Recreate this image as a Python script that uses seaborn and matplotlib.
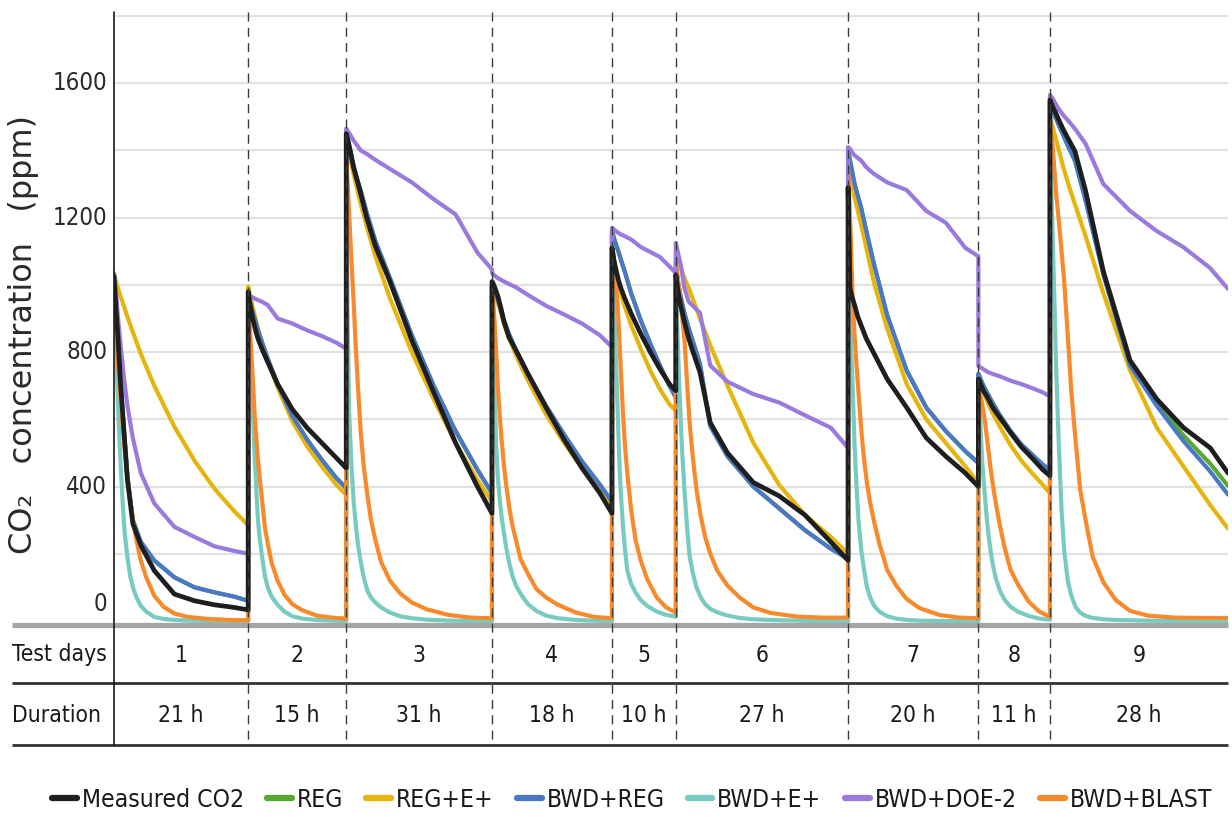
import numpy as np
import pandas as pd
import matplotlib
matplotlib.use("Agg")
import matplotlib.pyplot as plt
import seaborn as sns
from matplotlib import font_manager as fm
from matplotlib.lines import Line2D
from matplotlib.transforms import blended_transform_factory

# ---------------- data ----------------
# segment boundaries on a shared elapsed-time axis (h)
seg_edges = [0, 20.8, 36.0, 58.6, 77.2, 87.1, 113.8, 134.0, 145.1, 172.7]
test_days = ["1", "2", "3", "4", "5", "6", "7", "8", "9"]
durations = ["21 h", "15 h", "31 h", "18 h", "10 h", "27 h", "20 h", "11 h", "28 h"]
# sampling positions inside each segment (fraction of the segment)
frac = [0, 0.015, 0.03, 0.05, 0.075, 0.1, 0.14, 0.2, 0.3, 0.45, 0.6, 0.75, 0.9, 1.0]
frac_fast = [0, 0.01, 0.02, 0.035, 0.05, 0.065, 0.08, 0.1, 0.12, 0.145, 0.17, 0.2, 0.24,
             0.3, 0.37, 0.45, 0.55, 0.7, 0.85, 1.0]

measured = [
    [1026, 930, 840, 700, 560, 420, 290, 225, 150, 80, 60, 48, 40, 33],
    [980, 950, 925, 895, 865, 840, 810, 770, 705, 630, 575, 530, 485, 455],
    [1450, 1425, 1395, 1350, 1310, 1270, 1200, 1115, 1010, 835, 680, 530, 400, 320],
    [1010, 1000, 985, 965, 930, 890, 845, 805, 735, 635, 540, 455, 380, 320],
    [1110, 1095, 1075, 1055, 1035, 1015, 990, 960, 915, 855, 800, 750, 705, 685],
    [1030, 975, 935, 890, 840, 800, 740, 590, 500, 412, 372, 315, 235, 180],
    [1290, 990, 965, 940, 905, 880, 840, 795, 720, 635, 545, 490, 440, 400],
    [720, 715, 705, 695, 683, 675, 660, 635, 605, 560, 518, 485, 450, 432],
    [1550, 1530, 1515, 1490, 1462, 1437, 1398, 1280, 1040, 775, 660, 575, 515, 440],
]
reg = [
    [1000, 920, 830, 700, 560, 430, 300, 235, 180, 130, 100, 85, 72, 60],
    [960, 950, 935, 915, 890, 865, 830, 780, 705, 610, 540, 480, 425, 395],
    [1440, 1415, 1390, 1355, 1315, 1280, 1215, 1130, 1020, 850, 700, 565, 450, 380],
    [1000, 990, 975, 955, 925, 895, 855, 805, 735, 640, 555, 475, 405, 355],
    [1160, 1150, 1140, 1128, 1113, 1100, 1075, 1040, 975, 895, 825, 760, 700, 665],
    [1050, 1000, 960, 915, 870, 830, 765, 580, 490, 400, 335, 270, 215, 185],
    [1400, 1370, 1340, 1300, 1265, 1230, 1160, 1060, 910, 745, 635, 565, 505, 470],
    [735, 728, 720, 710, 698, 688, 672, 648, 612, 565, 525, 495, 465, 450],
    [1540, 1520, 1500, 1475, 1445, 1415, 1370, 1255, 1035, 770, 652, 552, 468, 402],
]
reg_eplus = [
    [1030, 1010, 990, 965, 935, 905, 860, 795, 700, 578, 477, 393, 325, 285],
    [995, 975, 955, 930, 900, 870, 830, 775, 695, 595, 520, 460, 405, 375],
    [1430, 1400, 1370, 1330, 1285, 1240, 1175, 1085, 960, 800, 660, 530, 420, 355],
    [995, 980, 965, 945, 915, 885, 845, 790, 715, 615, 530, 455, 385, 340],
    [1110, 1095, 1075, 1055, 1030, 1005, 975, 935, 880, 810, 745, 690, 645, 625],
    [1085, 1070, 1050, 1020, 990, 957, 900, 820, 700, 530, 405, 315, 250, 200],
    [1370, 1335, 1300, 1260, 1220, 1180, 1110, 1005, 870, 705, 600, 530, 460, 410],
    [725, 715, 705, 692, 678, 665, 645, 618, 578, 523, 477, 440, 405, 380],
    [1500, 1470, 1440, 1400, 1350, 1305, 1240, 1145, 975, 745, 575, 460, 345, 275],
]
bwd_reg = [
    [1000, 920, 830, 700, 560, 430, 300, 235, 180, 130, 100, 85, 72, 60],
    [960, 950, 935, 915, 890, 865, 830, 780, 705, 610, 540, 480, 425, 395],
    [1440, 1415, 1390, 1355, 1315, 1280, 1215, 1130, 1020, 850, 700, 565, 450, 380],
    [1000, 990, 975, 955, 925, 895, 855, 805, 735, 640, 555, 475, 405, 355],
    [1160, 1150, 1140, 1128, 1113, 1100, 1075, 1040, 975, 895, 825, 760, 700, 665],
    [1050, 1000, 960, 915, 870, 830, 765, 580, 490, 400, 335, 270, 215, 185],
    [1400, 1370, 1340, 1300, 1265, 1230, 1160, 1060, 910, 745, 635, 565, 505, 470],
    [735, 728, 720, 710, 698, 688, 672, 648, 612, 565, 525, 495, 465, 450],
    [1540, 1520, 1500, 1475, 1445, 1415, 1370, 1250, 1030, 760, 640, 535, 445, 376],
]
bwd_eplus = [
    [1000, 860, 750, 590, 460, 350, 260, 190, 135, 95, 68, 45, 28, 12, 6, 3, 1, 0, 0, 0],
    [950, 880, 810, 700, 600, 500, 410, 300, 240, 185, 135, 100, 72, 48, 28, 14, 7, 3, 1, 0],
    [1350, 900, 620, 470, 361, 290, 230, 175, 130, 90, 70, 55, 40, 25, 14, 8, 4, 1, 0, 0],
    [1000, 850, 700, 520, 420, 360, 310, 261, 215, 170, 135, 105, 80, 50, 30, 16, 8, 3, 1, 0],
    [1100, 1060, 1010, 930, 850, 760, 670, 560, 450, 360, 290, 220, 150, 110, 85, 62, 45, 28, 18, 13],
    [1000, 850, 700, 520, 390, 280, 192, 140, 100, 70, 50, 36, 26, 16, 9, 5, 3, 1, 0, 0],
    [990, 930, 850, 700, 520, 400, 300, 215, 160, 100, 70, 45, 28, 14, 7, 3, 1, 0, 0, 0],
    [720, 680, 630, 560, 490, 440, 400, 350, 300, 250, 210, 170, 130, 90, 62, 42, 28, 15, 7, 4],
    [1480, 1250, 1050, 750, 520, 330, 210, 120, 75, 40, 25, 15, 9, 5, 3, 2, 1, 0, 0, 0],
]
bwd_doe2 = [
    [1035, 980, 900, 818, 720, 640, 545, 440, 350, 280, 250, 222, 208, 200],
    [970, 968, 965, 962, 958, 955, 950, 940, 900, 885, 865, 848, 828, 810],
    [1465, 1455, 1445, 1430, 1415, 1400, 1390, 1372, 1345, 1305, 1255, 1210, 1096, 1046],
    [1035, 1030, 1025, 1020, 1015, 1010, 1003, 993, 970, 938, 912, 885, 850, 815],
    [1170, 1168, 1165, 1162, 1158, 1155, 1150, 1145, 1135, 1113, 1098, 1083, 1055, 1035],
    [1125, 1090, 1056, 990, 950, 937, 917, 760, 712, 675, 650, 612, 575, 515],
    [1410, 1405, 1395, 1385, 1378, 1370, 1350, 1330, 1305, 1282, 1220, 1185, 1110, 1085],
    [758, 756, 754, 752, 748, 745, 740, 735, 728, 715, 705, 693, 680, 668],
    [1565, 1555, 1540, 1523, 1505, 1490, 1465, 1420, 1300, 1220, 1160, 1112, 1050, 988],
]
bwd_blast = [
    [940, 880, 820, 740, 660, 580, 510, 430, 360, 290, 235, 180, 130, 75, 42, 22, 12, 6, 3, 2],
    [960, 910, 860, 785, 700, 620, 555, 480, 420, 350, 280, 230, 172, 120, 78, 50, 32, 16, 10, 7],
    [1380, 1300, 1210, 1080, 957, 820, 700, 560, 460, 375, 300, 240, 175, 120, 82, 55, 35, 18, 10, 8],
    [990, 950, 900, 800, 690, 610, 540, 460, 400, 335, 285, 240, 182, 140, 95, 70, 48, 25, 12, 8],
    [1080, 1075, 1065, 1050, 1030, 1000, 965, 900, 820, 720, 625, 530, 440, 330, 240, 180, 125, 70, 40, 25],
    [1070, 1030, 980, 910, 838, 710, 589, 480, 390, 310, 250, 200, 150, 105, 70, 40, 24, 13, 10, 10],
    [1340, 1250, 1150, 960, 850, 760, 680, 575, 490, 410, 350, 295, 230, 152, 105, 65, 38, 18, 10, 8],
    [690, 685, 678, 665, 650, 630, 610, 580, 545, 500, 455, 410, 355, 285, 215, 152, 110, 58, 28, 12],
    [1480, 1440, 1380, 1270, 1190, 1100, 1010, 850, 682, 530, 390, 300, 191, 115, 62, 30, 16, 10, 9, 9],
]

legend_order = ["Measured CO2", "REG", "REG+E+", "BWD+REG", "BWD+E+", "BWD+DOE-2", "BWD+BLAST"]
series_values = {
    "Measured CO2": measured, "REG": reg, "REG+E+": reg_eplus, "BWD+REG": bwd_reg,
    "BWD+E+": bwd_eplus, "BWD+DOE-2": bwd_doe2, "BWD+BLAST": bwd_blast,
}
series_grid = {n: frac for n in legend_order}
series_grid["BWD+E+"] = frac_fast
series_grid["BWD+BLAST"] = frac_fast

colors = {
    "Measured CO2": "#1e1e1e", "REG": "#56a82e", "REG+E+": "#e5b50e", "BWD+REG": "#4a78c4",
    "BWD+E+": "#78cbc0", "BWD+DOE-2": "#9b7ade", "BWD+BLAST": "#f98a2c",
}
draw_order = ["REG", "REG+E+", "BWD+REG", "BWD+E+", "BWD+BLAST", "BWD+DOE-2", "Measured CO2"]

rows = []
for name, segs in series_values.items():
    grid = series_grid[name]
    for i, vals in enumerate(segs):
        t0, t1 = seg_edges[i], seg_edges[i + 1]
        for f, v in zip(grid, vals):
            rows.append((name, t0 + f * (t1 - t0), v))
df = pd.DataFrame(rows, columns=["series", "t", "ppm"])

# ---------------- fonts ----------------
sns.set_theme(style="white")
names = {f.name for f in fm.fontManager.ttflist}
if "Liberation Sans Narrow" in names:
    narrow = dict(family=["Liberation Sans Narrow", "DejaVu Sans"])
    nscale = 1.0
else:
    narrow = dict(family=["DejaVu Sans"], stretch="condensed")
    nscale = 0.78
plt.rcParams["font.family"] = ["DejaVu Sans"]

# ---------------- figure ----------------
W, H = 1232, 817
fig = plt.figure(figsize=(W / 100, H / 100), dpi=100)
ax = fig.add_axes([114 / W, 1 - 625 / H, (1228 - 114) / W, (625 - 12) / H])
ax.set_xlim(seg_edges[0], seg_edges[-1])
ax.set_ylim(-12, 1812)
for s in ax.spines.values():
    s.set_visible(False)
ax.set_xticks([])
ax.set_yticks([])

# horizontal grid
for g in range(200, 1801, 200):
    ax.axhline(g, color="#e2e2e2", lw=1.6, zorder=0)

for name in draw_order:
    sub = df[df["series"] == name]
    sns.lineplot(data=sub, x="t", y="ppm", color=colors[name], estimator=None, sort=False,
                 lw=3.4 if name == "Measured CO2" else 3.0, ax=ax, legend=False,
                 solid_joinstyle="round", zorder=3)
ax.set_xlabel("")
ax.set_ylabel("")

bt = blended_transform_factory(ax.transData, ax.transAxes)
y_row1 = (625 - 683) / (625 - 12)
y_row2 = (625 - 745) / (625 - 12)
y_txt1 = (625 - 655) / (625 - 12)
y_txt2 = (625 - 716) / (625 - 12)
x_left = (12 - 114) / (1228 - 114)

# boundaries (dashed)
for e in seg_edges[1:-1]:
    ax.add_line(Line2D([e, e], [1.0, y_row2], transform=bt, color="#3c3c3c", lw=1.0,
                       dashes=(6.5, 4.5), clip_on=False, zorder=5))
# left solid line
ax.add_line(Line2D([0, 0], [1.0, y_row2], transform=ax.transAxes, color="#1a1a1a", lw=1.2,
                   clip_on=False, zorder=6))
# base gray line and table lines
ax.add_line(Line2D([x_left, 1.0], [0, 0], transform=ax.transAxes, color="#a6a6a6", lw=3.8,
                   clip_on=False, zorder=4, solid_capstyle="butt"))
for yy in (y_row1, y_row2):
    ax.add_line(Line2D([x_left, 1.0], [yy, yy], transform=ax.transAxes, color="#333333", lw=2.0,
                       clip_on=False, zorder=4, solid_capstyle="butt"))

fs = 21 * nscale
ax.text(x_left, y_txt1, "Test days", transform=ax.transAxes, ha="left", va="center",
        fontsize=fs, color="#1a1a1a", **narrow)
ax.text(x_left, y_txt2, "Duration", transform=ax.transAxes, ha="left", va="center",
        fontsize=fs, color="#1a1a1a", **narrow)
for i in range(9):
    mid = 0.5 * (seg_edges[i] + seg_edges[i + 1])
    ax.text(mid, y_txt1, test_days[i], transform=bt, ha="center", va="center",
            fontsize=fs, color="#1a1a1a", **narrow)
    ax.text(mid, y_txt2, durations[i], transform=bt, ha="center", va="center",
            fontsize=fs, color="#1a1a1a", **narrow)

# y tick labels
ybt = blended_transform_factory(ax.transAxes, ax.transData)
for v in [0, 400, 800, 1200, 1600]:
    ax.annotate(str(v), xy=(0, v), xycoords=ybt, xytext=(-5, 12 if v == 0 else 0),
                textcoords="offset points", ha="right", va="center",
                fontsize=22 * nscale, color="#2a2a2a", **narrow)

fig.text(24 / W, 1 - 335 / H, "CO₂   concentration   (ppm)", rotation=90, ha="center",
         va="center", fontsize=23, color="#2a2a2a", family=["DejaVu Sans"])

handles = [Line2D([0], [0], color=colors[n], lw=4.5) for n in legend_order]
leg = fig.legend(handles, legend_order, loc="center", bbox_to_anchor=(632 / W, 1 - 800 / H),
                 ncol=7, frameon=False, handlelength=1.0, handletextpad=0.2,
                 columnspacing=0.95, prop=fm.FontProperties(size=22.7 * nscale, **narrow))
for t in leg.get_texts():
    t.set_color("#1a1a1a")

fig.savefig("out.png", dpi=100)
